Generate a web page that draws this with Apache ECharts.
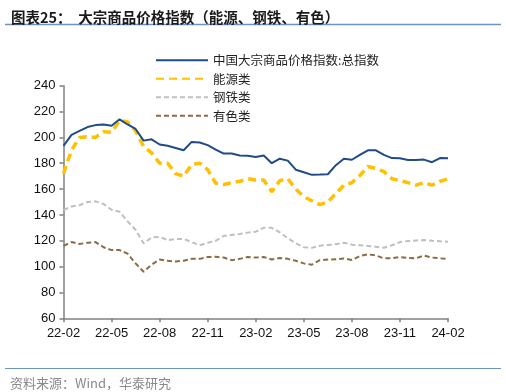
<!DOCTYPE html>
<html>
<head>
<meta charset="utf-8">
<script src="https://cdn.jsdelivr.net/npm/echarts@6/dist/echarts.min.js"></script>
<style>
html,body{margin:0;padding:0;background:#fff;}
#chart{width:506px;height:392px;}
</style>
</head>
<body>
<div id="chart"></div>
<script>
// Half-month observation dates (Feb 2022 – Feb 2024)
var categories = [
  "22-02-01","22-02-16","22-03-01","22-03-16","22-04-01","22-04-16","22-05-01","22-05-16",
  "22-06-01","22-06-16","22-07-01","22-07-16","22-08-01","22-08-16","22-09-01","22-09-16",
  "22-10-01","22-10-16","22-11-01","22-11-16","22-12-01","22-12-16","23-01-01","23-01-16",
  "23-02-01","23-02-16","23-03-01","23-03-16","23-04-01","23-04-16","23-05-01","23-05-16",
  "23-06-01","23-06-16","23-07-01","23-07-16","23-08-01","23-08-16","23-09-01","23-09-16",
  "23-10-01","23-10-16","23-11-01","23-11-16","23-12-01","23-12-16","24-01-01","24-01-16",
  "24-02-01"
];
var tickLabels = ["22-02","22-05","22-08","22-11","23-02","23-05","23-08","23-11","24-02"];

var seriesNames = ["中国大宗商品价格指数:总指数","能源类","钢铁类","有色类"];

var totalIndex = [193.5,202,205,208,209.5,210,209,214,210,206.5,197.5,198.5,194.5,193.5,191.8,190,
  196.5,196,194,190.5,187.5,187.5,186,185.8,184.8,186,180,183.5,182,175,173,171,
  171.2,171.5,178.5,183.5,182.7,186.5,190,190,186.5,184,183.8,182.5,182.5,182.8,180.8,184,183.8];

var energy = [172,190,200,200.5,200,204.4,204,213,212,205,193,188,180,180,172,170,
  179,180,175,164.5,163.5,165,166,168,167,167,158,166.5,168,160,154,151,
  148,150,156.5,163,165,170.5,177.5,176,173.5,168,166.5,165,163,165,163,166,168];

var steel = [143.8,146.5,147.5,150,150.5,148.5,144,142.5,135,128.5,118,122.5,123,120.5,121.4,121.4,
  119,116.5,118.5,120,123.7,124.5,125.3,126.3,127,130,130,126.5,122,118,115,114.5,
  116.2,116.7,117.3,118.5,117,116.5,116,115.4,114.6,116.5,119,119.8,120.2,120.6,120,119.6,119.3];

var nonferrous = [116,119,117.5,118.5,119,115,112.8,112.8,110,102.5,96,101.5,105.5,104.5,104,104.5,
  106,106,107.4,107.6,107,105,106,107.5,107,107.4,105.5,106.6,106,104.5,102.5,101.5,
  105,105.5,105.6,106.3,105.2,108.2,109.5,108.6,106.4,106.5,107.4,106.6,106.5,108.5,107,106.4,106];

var FONT = "Liberation Sans, Arial, sans-serif";
var CJK = "Noto Sans CJK SC";

var chart = echarts.init(document.getElementById('chart'), null, {renderer:'canvas'});

var tickIdx = {};
tickLabels.forEach(function(t, k){ tickIdx[k*6] = t; });

var option = {
  animation: false,
  backgroundColor: '#ffffff',
  title: [{
    text: '图表25：  大宗商品价格指数（能源、钢铁、有色）',
    left: 6, top: 5,
    textStyle: {fontFamily: CJK, fontSize: 14.5, fontWeight: 'bold', color: '#1a1a1a'}
  },{
    text: '资料来源：Wind，华泰研究',
    left: 5, top: 372,
    textStyle: {fontFamily: CJK, fontSize: 13, fontWeight: 'normal', color: '#8a8a8a'}
  }],
  graphic: [
    {type:'line', shape:{x1:5,y1:24.5,x2:501,y2:24.5}, style:{stroke:'#6d93c4', lineWidth:1.5}},
    {type:'line', shape:{x1:5,y1:368.5,x2:501,y2:368.5}, style:{stroke:'#6d93c4', lineWidth:1.2}}
  ],
  legend: {
    orient: 'vertical',
    left: 150, top: 49,
    itemWidth: 52, itemHeight: 12, itemGap: 6,
    itemStyle: {opacity: 0},
    textStyle: {fontFamily: CJK, fontSize: 12.5, color: '#222'},
    data: seriesNames
  },
  grid: {left: 63.5, right: 58, top: 85.7, bottom: 73.7, containLabel: false},
  xAxis: {
    type: 'category',
    data: categories,
    boundaryGap: false,
    axisLine: {lineStyle: {color: '#808080', width: 1.5}},
    axisTick: {show: true, interval: function(i){ return i % 6 === 0; }, length: 4, lineStyle:{color:'#808080', width:1.5}},
    axisLabel: {
      interval: function(i){ return i % 6 === 0; },
      formatter: function(v, i){ return tickIdx[i] || ''; },
      fontFamily: FONT, fontSize: 13, color: '#111', margin: 9
    },
    splitLine: {show: false}
  },
  yAxis: {
    type: 'value',
    min: 60, max: 240, interval: 20,
    axisLine: {show: true, lineStyle: {color: '#808080', width: 1.5}},
    axisTick: {show: true, length: 4, lineStyle:{color:'#808080', width:1.5}},
    axisLabel: {fontFamily: FONT, fontSize: 13, color: '#111', margin: 8},
    splitLine: {show: false}
  },
  series: [
    {name: seriesNames[0], type:'line', data: totalIndex, showSymbol:false, symbol:'none',
     lineStyle:{color:'#1f4b86', width:2}, itemStyle:{color:'#1f4b86'}, z:5},
    {name: seriesNames[1], type:'line', data: energy, showSymbol:false, symbol:'none',
     lineStyle:{color:'#ffc000', width:3.5, type:[8,5]}, itemStyle:{color:'#ffc000'}, z:4},
    {name: seriesNames[2], type:'line', data: steel, showSymbol:false, symbol:'none',
     lineStyle:{color:'#bfbfbf', width:2, type:[5,3]}, itemStyle:{color:'#bfbfbf'}, z:3},
    {name: seriesNames[3], type:'line', data: nonferrous, showSymbol:false, symbol:'none',
     lineStyle:{color:'#8b6b43', width:2, type:[5,3]}, itemStyle:{color:'#8b6b43'}, z:3}
  ]
};
chart.setOption(option);
</script>
</body>
</html>
